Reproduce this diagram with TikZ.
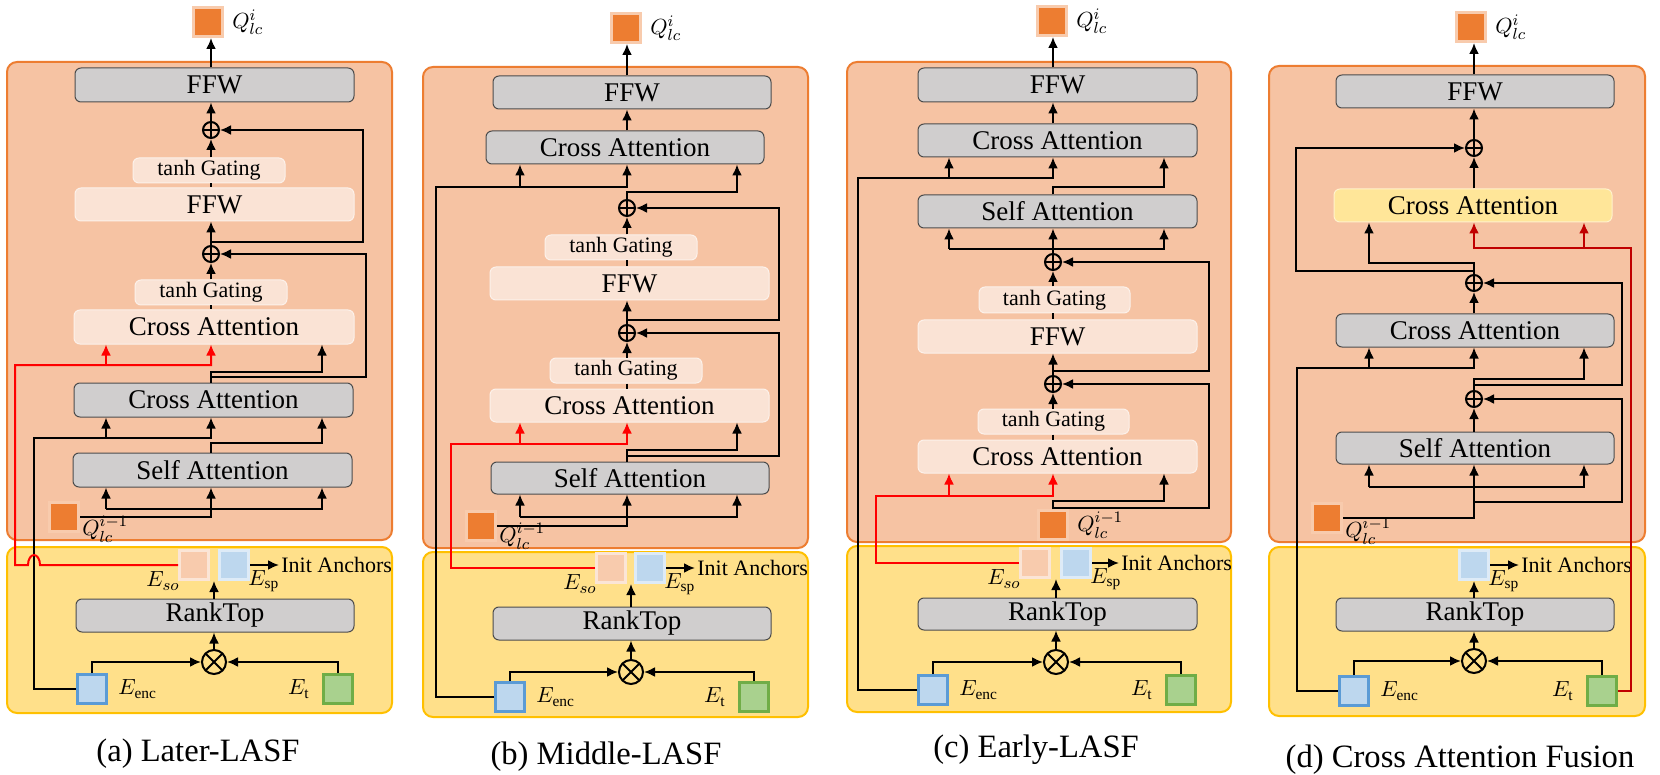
\documentclass[tikz,border=0pt]{standalone}
\usepackage{fontspec}
\setmainfont{Liberation Serif}
\usetikzlibrary{positioning, fit, calc, arrows.meta}
\definecolor{decfill}{HTML}{F6C3A3}
\definecolor{decline}{HTML}{ED7D31}
\definecolor{selfill}{HTML}{FFE08A}
\definecolor{selline}{HTML}{FFC000}
\definecolor{greyfill}{HTML}{D0CECE}
\definecolor{lightfill}{HTML}{FAE3D5}
\definecolor{qfill}{HTML}{ED7D31}
\definecolor{qline}{HTML}{F8CBAD}
\definecolor{sofill}{HTML}{F8CBAD}
\definecolor{soline}{HTML}{FBE5D6}
\definecolor{spfill}{HTML}{BDD7EE}
\definecolor{spline}{HTML}{DEEBF7}
\definecolor{encline}{HTML}{5B9BD5}
\definecolor{tfill}{HTML}{A9D18E}
\definecolor{tline}{HTML}{70AD47}
\definecolor{cafill}{HTML}{FFE699}
\definecolor{caline}{HTML}{FFF2CC}
\definecolor{darkred}{HTML}{C00000}

\begin{document}
\begin{tikzpicture}
    [
        x=0.5pt, y=-0.5pt,
        arr/.style={line width=1pt, -{Latex[length=5.5pt,width=5pt]}},
        ln/.style={line width=1pt},
        redarr/.style={arr, draw=red},
        darkarr/.style={arr, draw=darkred},
        dec/.style={draw=decline, fill=decfill, line width=1pt, rounded corners=5pt, inner sep=0pt},
        sel/.style={draw=selline, fill=selfill, line width=1pt, rounded corners=5pt, inner sep=0pt},
        gbox/.style={draw=black!70, fill=greyfill, line width=0.5pt, rounded corners=3pt, inner sep=0pt},
        lbox/.style={draw=lightfill!50!white, fill=lightfill, line width=0.5pt, rounded corners=3pt, inner sep=0pt},
        ybox/.style={gbox, draw=caline, fill=cafill},
        bigt/.style={font=\fontsize{13.5}{16}\selectfont, inner sep=0pt},
        smallt/.style={font=\fontsize{11}{13}\selectfont, inner sep=0pt},
        qsq/.style={draw=qline, fill=qfill, line width=1.5pt, minimum size=14.5pt, inner sep=0pt},
        sosq/.style={qsq, draw=soline, fill=sofill},
        spsq/.style={qsq, draw=spline, fill=spfill},
        encsq/.style={qsq, draw=encline, fill=spfill},
        tsq/.style={qsq, draw=tline, fill=tfill},
        oplus/.style={circle, draw, line width=1pt, minimum size=8pt, inner sep=0pt,
            path picture={\draw[line width=1pt] (path picture bounding box.north) -- (path picture bounding box.south) (path picture bounding box.west) -- (path picture bounding box.east);}},
        otimes/.style={circle, draw, line width=1pt, minimum size=12pt, inner sep=0pt,
            path picture={\draw[line width=1pt] (path picture bounding box.north west) -- (path picture bounding box.south east) (path picture bounding box.south west) -- (path picture bounding box.north east);}},
        mlab/.style={font=\fontsize{11}{13}\selectfont, inner sep=1pt},
        ilab/.style={font=\fontsize{11}{13}\selectfont, inner sep=1pt},
        captext/.style={font=\fontsize{16.3}{19}\selectfont},
        solab/.style={mlab, anchor=east, xshift=2pt},
        splab/.style={mlab, anchor=west, xshift=-2pt},
    ]

  \path[use as bounding box, fill=white] (0,0) rectangle (1660,775);

  \node[dec, fit={(7,62) (392,540)}] (a-dec) {};
  \node[sel, fit={(7,547) (392,713)}] (a-sel) {};
  \coordinate (a-m) at (211,0);
  \coordinate (a-l) at (106,0);
  \coordinate (a-r) at (322,0);
  \node[qsq, label={[mlab, label distance=3pt]east:$Q_{lc}^{i}$}] (a-qout) at (208,22) {};
  \node[gbox, fit={(75,68) (354,102)}, label={[bigt]center:FFW}] (a-ffw) {};
  \node[oplus] (a-p1) at (211,130) {};
  \node[lbox, fit={(133,158) (285,183)}, label={[smallt]center:tanh Gating}] (a-tg1) {};
  \node[lbox, fit={(75,188) (354,221)}, label={[bigt]center:FFW}] (a-ffwl) {};
  \node[oplus] (a-p2) at (211,254) {};
  \node[lbox, fit={(135,280) (287,305)}, label={[smallt]center:tanh Gating}] (a-tg2) {};
  \node[lbox, fit={(74,310) (354,344)}, label={[bigt]center:Cross Attention}] (a-cal) {};
  \node[gbox, fit={(74,383) (353,417)}, label={[bigt]center:Cross Attention}] (a-ca) {};
  \node[gbox, fit={(73,453) (352,487)}, label={[bigt]center:Self Attention}] (a-sa) {};
  \node[qsq, label={[mlab, anchor=west, yshift=-6pt]east:$Q_{lc}^{i-1}$}] (a-qin) at (64,517) {};
  \node[sosq, label={[solab]south west:$E_{so}$}] (a-eso) at (194,565) {};
  \node[spsq, label={[splab]south east:$E_{\mathrm{sp}}$}] (a-esp) at (234,565) {};
  \node[ilab, anchor=west] (a-init) at (279,565) {Init Anchors};
  \node[gbox, fit={(76,599) (354,632)}, label={[bigt]center:RankTop}] (a-rank) {};
  \node[otimes] (a-t) at (214,662) {};
  \node[encsq, label={[mlab, label distance=4pt]east:$E_{\mathrm{enc}}$}] (a-eenc) at (92,689) {};
  \node[tsq, label={[mlab, label distance=5pt]west:$E_{\mathrm{t}}$}] (a-et) at (338,689) {};
  \node[captext] (a-cap) at (198,754) {(a) Later-LASF};

  \draw[arr] (a-m |- a-ffw.north) -- (a-m |- a-qout.south);
  \draw[arr] (a-p1.north) -- (a-m |- a-ffw.south);
  \draw[arr] (a-m |- a-tg1.north) -- (a-p1.south);
  \draw[ln] (a-m |- a-tg1.south) -- (a-m |- a-ffwl.north);
  \draw[arr] (a-p2.north) -- (a-m |- a-ffwl.south);
  \coordinate (a-s1) at (363,242);
  \draw[arr] (a-m |- a-s1) -- (a-s1) |- (a-p1.east);
  \draw[arr] (a-m |- a-tg2.north) -- (a-p2.south);
  \draw[ln] (a-m |- a-tg2.south) -- (a-m |- a-cal.north);
  \coordinate (a-s3) at (322,372);
  \draw[arr] (a-m |- a-ca.north) |- (a-s3) -- (a-r |- a-cal.south);
  \coordinate (a-s2) at (366,377);
  \draw[arr] (a-m |- a-s2) -- (a-s2) |- (a-p2.east);
  \coordinate (a-s4) at (322,443);
  \draw[arr] (a-m |- a-sa.north) |- (a-s4) -- (a-r |- a-ca.south);
  \coordinate (a-s5) at (34,438);
  \draw[arr] (a-eenc.west) -| (a-s5) -- (a-m |- a-s5) -- (a-m |- a-ca.south);
  \draw[arr] (a-l |- a-s5) -- (a-l |- a-ca.south);
  \coordinate (a-s6) at (106,509);
  \draw[arr] (a-qin.east) -| (a-m |- a-sa.south);
  \draw[arr] (a-s6) -- (a-l |- a-sa.south);
  \draw[arr] (a-s6) -| (a-r |- a-sa.south);
  \coordinate (a-h) at (40,565);
  \coordinate (a-s7) at (15,365);
  \draw[redarr] (a-eso.west) -- (a-h) arc[start angle=0, end angle=180, x radius=3pt, y radius=5pt] -| (a-s7) -- (a-m |- a-s7) -- (a-m |- a-cal.south);
  \draw[redarr] (a-l |- a-s7) -- (a-l |- a-cal.south);
  \draw[arr] (a-t |- a-rank.north) -- (a-t |- a-eso.south);
  \draw[arr] (a-t.north) -- (a-t |- a-rank.south);
  \draw[arr] (a-eenc.north) |- (a-t.west);
  \draw[arr] (a-et.north) |- (a-t.east);
  \draw[arr] (a-esp.east) -- (a-init.west);

  \node[dec, fit={(423,67) (808,548)}] (b-dec) {};
  \node[sel, fit={(423,552) (808,717)}] (b-sel) {};
  \coordinate (b-m) at (627,0);
  \coordinate (b-l) at (520,0);
  \coordinate (b-r) at (737,0);
  \node[qsq, label={[mlab, label distance=3pt]east:$Q_{lc}^{i}$}] (b-qout) at (626,28) {};
  \node[gbox, fit={(493,76) (771,109)}, label={[bigt]center:FFW}] (b-ffw) {};
  \node[gbox, fit={(486,131) (764,164)}, label={[bigt]center:Cross Attention}] (b-ca) {};
  \node[oplus] (b-p1) at (627,208) {};
  \node[lbox, fit={(545,235) (697,260)}, label={[smallt]center:tanh Gating}] (b-tg1) {};
  \node[lbox, fit={(490,267) (769,300)}, label={[bigt]center:FFW}] (b-ffwl) {};
  \node[oplus] (b-p2) at (627,333) {};
  \node[lbox, fit={(550,358) (702,383)}, label={[smallt]center:tanh Gating}] (b-tg2) {};
  \node[lbox, fit={(490,389) (769,422)}, label={[bigt]center:Cross Attention}] (b-cal) {};
  \node[gbox, fit={(491,462) (769,494)}, label={[bigt]center:Self Attention}] (b-sa) {};
  \node[qsq, label={[mlab, anchor=west, yshift=-5pt]east:$Q_{lc}^{i-1}$}] (b-qin) at (481,526) {};
  \node[sosq, label={[solab]south west:$E_{so}$}] (b-eso) at (611,568) {};
  \node[spsq, label={[splab]south east:$E_{\mathrm{sp}}$}] (b-esp) at (650,568) {};
  \node[ilab, anchor=west] (b-init) at (695,568) {Init Anchors};
  \node[gbox, fit={(493,607) (771,640)}, label={[bigt]center:RankTop}] (b-rank) {};
  \node[otimes] (b-t) at (631,672) {};
  \node[encsq, label={[mlab, label distance=4pt]east:$E_{\mathrm{enc}}$}] (b-eenc) at (510,697) {};
  \node[tsq, label={[mlab, label distance=5pt]west:$E_{\mathrm{t}}$}] (b-et) at (754,697) {};
  \node[captext] (b-cap) at (606,757) {(b) Middle-LASF};

  \draw[arr] (b-m |- b-ffw.north) -- (b-m |- b-qout.south);
  \draw[arr] (b-m |- b-ca.north) -- (b-m |- b-ffw.south);
  \coordinate (b-s5) at (436,187);
  \draw[arr] (b-eenc.west) -| (b-s5) -- (b-m |- b-s5) -- (b-m |- b-ca.south);
  \draw[arr] (b-l |- b-s5) -- (b-l |- b-ca.south);
  \coordinate (b-s3) at (737,192);
  \draw[arr] (b-p1.north) |- (b-s3) -- (b-r |- b-ca.south);
  \draw[arr] (b-m |- b-tg1.north) -- (b-p1.south);
  \draw[ln] (b-m |- b-tg1.south) -- (b-m |- b-ffwl.north);
  \draw[arr] (b-p2.north) -- (b-m |- b-ffwl.south);
  \coordinate (b-s1) at (779,320);
  \draw[arr] (b-m |- b-s1) -- (b-s1) |- (b-p1.east);
  \draw[arr] (b-m |- b-tg2.north) -- (b-p2.south);
  \draw[ln] (b-m |- b-tg2.south) -- (b-m |- b-cal.north);
  \coordinate (b-s4) at (737,450);
  \draw[arr] (b-m |- b-sa.north) |- (b-s4) -- (b-r |- b-cal.south);
  \coordinate (b-s2) at (779,456);
  \draw[arr] (b-m |- b-s2) -- (b-s2) |- (b-p2.east);
  \coordinate (b-s6) at (520,517);
  \draw[arr] (b-qin.east) -| (b-m |- b-sa.south);
  \draw[arr] (b-s6) -- (b-l |- b-sa.south);
  \draw[arr] (b-s6) -| (b-r |- b-sa.south);
  \coordinate (b-s7) at (451,444);
  \draw[redarr] (b-eso.west) -| (b-s7) -- (b-m |- b-s7) -- (b-m |- b-cal.south);
  \draw[redarr] (b-l |- b-s7) -- (b-l |- b-cal.south);
  \draw[arr] (b-t |- b-rank.north) -- (b-t |- b-eso.south);
  \draw[arr] (b-t.north) -- (b-t |- b-rank.south);
  \draw[arr] (b-eenc.north) |- (b-t.west);
  \draw[arr] (b-et.north) |- (b-t.east);
  \draw[arr] (b-esp.east) -- (b-init.west);

  \node[dec, fit={(847,62) (1231,542)}] (c-dec) {};
  \node[sel, fit={(847,546) (1231,712)}] (c-sel) {};
  \coordinate (c-m) at (1053,0);
  \coordinate (c-l) at (949,0);
  \coordinate (c-r) at (1164,0);
  \node[qsq, label={[mlab, label distance=3pt]east:$Q_{lc}^{i}$}] (c-qout) at (1052,21) {};
  \node[gbox, fit={(918,68) (1197,102)}, label={[bigt]center:FFW}] (c-ffw) {};
  \node[gbox, fit={(918,124) (1197,157)}, label={[bigt]center:Cross Attention}] (c-ca) {};
  \node[gbox, fit={(918,195) (1197,228)}, label={[bigt]center:Self Attention}] (c-sa) {};
  \node[oplus] (c-p1) at (1053,262) {};
  \node[lbox, fit={(979,287) (1130,313)}, label={[smallt]center:tanh Gating}] (c-tg1) {};
  \node[lbox, fit={(918,320) (1197,353)}, label={[bigt]center:FFW}] (c-ffwl) {};
  \node[oplus] (c-p2) at (1053,384) {};
  \node[lbox, fit={(978,409) (1129,434)}, label={[smallt]center:tanh Gating}] (c-tg2) {};
  \node[lbox, fit={(918,440) (1197,473)}, label={[bigt]center:Cross Attention}] (c-cal) {};
  \node[qsq, label={[mlab, label distance=3pt]east:$Q_{lc}^{i-1}$}] (c-qin) at (1053,525) {};
  \node[sosq, label={[solab]south west:$E_{so}$}] (c-eso) at (1035,563) {};
  \node[spsq, label={[splab]south east:$E_{\mathrm{sp}}$}] (c-esp) at (1076,563) {};
  \node[ilab, anchor=west] (c-init) at (1119,563) {Init Anchors};
  \node[gbox, fit={(918,598) (1197,630)}, label={[bigt]center:RankTop}] (c-rank) {};
  \node[otimes] (c-t) at (1056,662) {};
  \node[encsq, label={[mlab, label distance=4pt]east:$E_{\mathrm{enc}}$}] (c-eenc) at (933,690) {};
  \node[tsq, label={[mlab, label distance=5pt]west:$E_{\mathrm{t}}$}] (c-et) at (1181,690) {};
  \node[captext] (c-cap) at (1036,750) {(c) Early-LASF};

  \draw[arr] (c-m |- c-ffw.north) -- (c-m |- c-qout.south);
  \draw[arr] (c-m |- c-ca.north) -- (c-m |- c-ffw.south);
  \coordinate (c-s5) at (858,178);
  \draw[arr] (c-eenc.west) -| (c-s5) -- (c-m |- c-s5) -- (c-m |- c-ca.south);
  \draw[arr] (c-l |- c-s5) -- (c-l |- c-ca.south);
  \coordinate (c-s3) at (1164,187);
  \draw[arr] (c-m |- c-sa.north) |- (c-s3) -- (c-r |- c-ca.south);
  \draw[arr] (c-p1.north) -- (c-m |- c-sa.south);
  \coordinate (c-s6) at (949,249);
  \draw[arr] (c-s6) -- (c-l |- c-sa.south);
  \draw[arr] (c-s6) -| (c-r |- c-sa.south);
  \draw[arr] (c-m |- c-tg1.north) -- (c-p1.south);
  \draw[ln] (c-m |- c-tg1.south) -- (c-m |- c-ffwl.north);
  \draw[arr] (c-p2.north) -- (c-m |- c-ffwl.south);
  \coordinate (c-s1) at (1209,371);
  \draw[arr] (c-m |- c-s1) -- (c-s1) |- (c-p1.east);
  \draw[arr] (c-m |- c-tg2.north) -- (c-p2.south);
  \draw[ln] (c-m |- c-tg2.south) -- (c-m |- c-cal.north);
  \coordinate (c-s4) at (1164,501);
  \draw[arr] (c-qin.north) |- (c-s4) -- (c-r |- c-cal.south);
  \coordinate (c-s2) at (1209,508);
  \draw[arr] (c-qin.north) |- (c-s2) |- (c-p2.east);
  \coordinate (c-s7) at (876,496);
  \draw[redarr] (c-eso.west) -| (c-s7) -- (c-m |- c-s7) -- (c-m |- c-cal.south);
  \draw[redarr] (c-l |- c-s7) -- (c-l |- c-cal.south);
  \draw[arr] (c-t |- c-rank.north) -- (c-t |- c-eso.south);
  \draw[arr] (c-t.north) -- (c-t |- c-rank.south);
  \draw[arr] (c-eenc.north) |- (c-t.west);
  \draw[arr] (c-et.north) |- (c-t.east);
  \draw[arr] (c-esp.east) -- (c-init.west);

  \node[dec, fit={(1269,66) (1645,542)}] (d-dec) {};
  \node[sel, fit={(1269,547) (1645,716)}] (d-sel) {};
  \coordinate (d-m) at (1474,0);
  \coordinate (d-l) at (1369,0);
  \coordinate (d-r) at (1584,0);
  \node[qsq, label={[mlab, label distance=3pt]east:$Q_{lc}^{i}$}] (d-qout) at (1471,27) {};
  \node[gbox, fit={(1336,75) (1614,108)}, label={[bigt]center:FFW}] (d-ffw) {};
  \node[oplus] (d-p1) at (1474,148) {};
  \node[ybox, fit={(1334,189) (1612,222)}, label={[bigt]center:Cross Attention}] (d-cay) {};
  \node[oplus] (d-p2) at (1474,283) {};
  \node[gbox, fit={(1336,314) (1614,347)}, label={[bigt]center:Cross Attention}] (d-ca) {};
  \node[oplus] (d-p3) at (1474,399) {};
  \node[gbox, fit={(1336,432) (1614,464)}, label={[bigt]center:Self Attention}] (d-sa) {};
  \node[qsq, label={[mlab, anchor=west, yshift=-6.5pt]east:$Q_{lc}^{i-1}$}] (d-qin) at (1327,518) {};
  \node[spsq, label={[splab]south east:$E_{\mathrm{sp}}$}] (d-esp) at (1474,565) {};
  \node[ilab, anchor=west] (d-init) at (1519,565) {Init Anchors};
  \node[gbox, fit={(1336,598) (1614,631)}, label={[bigt]center:RankTop}] (d-rank) {};
  \node[otimes] (d-t) at (1474,661) {};
  \node[encsq, label={[mlab, label distance=4pt]east:$E_{\mathrm{enc}}$}] (d-eenc) at (1354,691) {};
  \node[tsq, label={[mlab, label distance=5pt]west:$E_{\mathrm{t}}$}] (d-et) at (1602,691) {};
  \node[captext] (d-cap) at (1460,760) {(d) Cross Attention Fusion};

  \draw[arr] (d-m |- d-ffw.north) -- (d-m |- d-qout.south);
  \draw[arr] (d-p1.north) -- (d-m |- d-ffw.south);
  \draw[arr] (d-m |- d-cay.north) -- (d-p1.south);
  \coordinate (d-s1) at (1296,271);
  \draw[arr] (d-m |- d-s1) -- (d-s1) |- (d-p1.west);
  \coordinate (d-s3) at (1369,263);
  \draw[arr] (d-p2.north) |- (d-s3) -- (d-l |- d-cay.south);
  \coordinate (d-s7) at (1631,248);
  \draw[darkarr] (d-et.east) -| (d-s7) -- (d-m |- d-s7) -- (d-m |- d-cay.south);
  \draw[darkarr] (d-r |- d-s7) -- (d-r |- d-cay.south);
  \draw[arr] (d-m |- d-ca.north) -- (d-p2.south);
  \coordinate (d-s2) at (1622,385);
  \draw[arr] (d-m |- d-s2) -- (d-s2) |- (d-p2.east);
  \coordinate (d-s5) at (1297,368);
  \draw[arr] (d-eenc.west) -| (d-s5) -- (d-m |- d-s5) -- (d-m |- d-ca.south);
  \draw[arr] (d-l |- d-s5) -- (d-l |- d-ca.south);
  \coordinate (d-s4) at (1584,379);
  \draw[arr] (d-p3.north) |- (d-s4) -- (d-r |- d-ca.south);
  \draw[arr] (d-m |- d-sa.north) -- (d-p3.south);
  \coordinate (d-s8) at (1622,502);
  \draw[arr] (d-m |- d-s8) -- (d-s8) |- (d-p3.east);
  \coordinate (d-s6) at (1369,487);
  \draw[arr] (d-qin.east) -| (d-m |- d-sa.south);
  \draw[arr] (d-s6) -- (d-l |- d-sa.south);
  \draw[arr] (d-s6) -| (d-r |- d-sa.south);
  \draw[arr] (d-t |- d-rank.north) -- (d-esp.south);
  \draw[arr] (d-t.north) -- (d-t |- d-rank.south);
  \draw[arr] (d-eenc.north) |- (d-t.west);
  \draw[arr] (d-et.north) |- (d-t.east);
  \draw[arr] (d-esp.east) -- (d-init.west);
\end{tikzpicture}
\end{document}
